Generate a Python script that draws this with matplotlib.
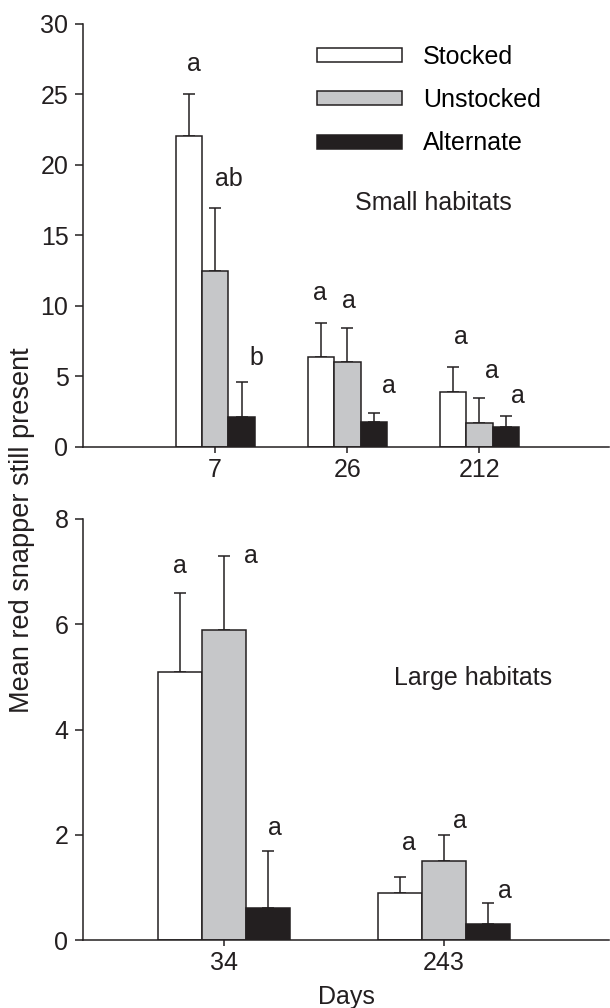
import numpy as np
import matplotlib
matplotlib.use("Agg")
import matplotlib.pyplot as plt

plt.rcParams['font.family'] = ['Liberation Sans', 'DejaVu Sans']

series = ['Stocked', 'Unstocked', 'Alternate']
colors = ['white', '#c6c7c9', '#231f20']
ink = '#231f20'

# small habitats
days_small = ['7', '26', '212']
small_mean = {'Stocked': [22.0, 6.4, 3.9],
              'Unstocked': [12.5, 6.0, 1.7],
              'Alternate': [2.1, 1.8, 1.4]}
small_se = {'Stocked': [3.0, 2.4, 1.8],
            'Unstocked': [4.4, 2.4, 1.8],
            'Alternate': [2.5, 0.6, 0.8]}
small_letters = {'Stocked': ['a', 'a', 'a'],
                 'Unstocked': ['ab', 'a', 'a'],
                 'Alternate': ['b', 'a', 'a']}

# large habitats
days_large = ['34', '243']
large_mean = {'Stocked': [5.1, 0.9],
              'Unstocked': [5.9, 1.5],
              'Alternate': [0.6, 0.3]}
large_se = {'Stocked': [1.5, 0.3],
            'Unstocked': [1.4, 0.5],
            'Alternate': [1.1, 0.4]}
large_letters = {'Stocked': ['a', 'a'],
                 'Unstocked': ['a', 'a'],
                 'Alternate': ['a', 'a']}

# letter offsets (points) from top of error bar: (dx, dy)
small_off = {'Stocked': [(4, 22), (-1, 21.5), (6, 21)],
             'Unstocked': [(10, 21), (1.5, 19.5), (9, 19)],
             'Alternate': [(11, 17), (11, 19.5), (9, 14.5)]}
large_off = {'Stocked': [(0, 19), (6, 24.5)],
             'Unstocked': [(19, 0), (11.5, 10)],
             'Alternate': [(5, 16), (12, 9)]}

fs = 18
w = 0.2

fig = plt.figure(figsize=(6.1, 10.08), dpi=100)
ax1 = fig.add_axes([83/610, 1-447/1008, 526/610, (447-23.5)/1008])
ax2 = fig.add_axes([83/610, 1-940/1008, 526/610, (940-519)/1008])


def draw(ax, days, mean, se, letters, offs):
    x = np.arange(1, len(days)+1)
    handles = []
    for i, s in enumerate(series):
        xs = x + (i-1)*w
        b = ax.bar(xs, mean[s], w, color=colors[i], edgecolor=ink,
                   linewidth=1.1, zorder=2, label=s)
        handles.append(b)
        ax.errorbar(xs, mean[s], yerr=[np.zeros(len(xs)), se[s]], fmt='none',
                    ecolor=ink, elinewidth=1.1, capsize=4.5, capthick=1.1,
                    zorder=1)
        for j in range(len(xs)):
            top = mean[s][j] + se[s][j]
            ax.annotate(letters[s][j], (xs[j], top), xytext=offs[s][j],
                        textcoords='offset points', ha='center', va='center',
                        fontsize=fs, color=ink)
    ax.set_xticks(x)
    ax.set_xticklabels(days)
    for sp in ['top', 'right']:
        ax.spines[sp].set_visible(False)
    for sp in ['left', 'bottom']:
        ax.spines[sp].set_linewidth(1.1)
        ax.spines[sp].set_color(ink)
    ax.tick_params(axis='both', labelsize=fs, colors=ink, width=1.1)
    ax.tick_params(axis='y', length=5.5, pad=5)
    ax.tick_params(axis='x', length=4, pad=4)
    return handles


h = draw(ax1, days_small, small_mean, small_se, small_letters, small_off)
ax1.set_xlim(0, 3.98)
ax1.set_ylim(0, 30)
ax1.set_yticks([0, 5, 10, 15, 20, 25, 30])
ax1.text(433/610, 1-203/1008, 'Small habitats', transform=fig.transFigure,
         ha='center', va='center', fontsize=fs, color=ink)
ax1.legend(handles=h, loc='upper left', bbox_to_anchor=(317/610, 1-44.5/1008),
           bbox_transform=fig.transFigure, frameon=False, fontsize=fs,
           handlelength=3.4, handleheight=0.48, handletextpad=0.84,
           labelspacing=0.78, borderpad=0, borderaxespad=0)

draw(ax2, days_large, large_mean, large_se, large_letters, large_off)
ax2.set_xlim(0.357, 2.75)
ax2.set_ylim(0, 8)
ax2.set_yticks([0, 2, 4, 6, 8])
ax2.text(473/610, 1-678/1008, 'Large habitats', transform=fig.transFigure,
         ha='center', va='center', fontsize=fs, color=ink)

fig.text(22/610, 1-530/1008, 'Mean red snapper still present', rotation=90,
         ha='center', va='center', fontsize=19.5, color=ink)
fig.text(346/610, 1-997/1008, 'Days', ha='center', va='center',
         fontsize=fs, color=ink)

fig.savefig('out.png', dpi=100)
